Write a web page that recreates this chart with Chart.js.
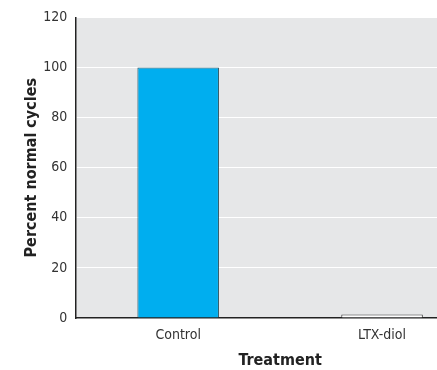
<!DOCTYPE html>
<html>
<head>
<meta charset="utf-8">
<script src="https://cdn.jsdelivr.net/npm/chart.js@4"></script>
<style>
    html, body { margin: 0; padding: 0; background: #fff; overflow: hidden; }
    #wrap { width: 490px; height: 370px; }
</style>
</head>
<body>
<div id="wrap"><canvas id="cyclesChart"></canvas></div>
<script>
// Chart data
const categories = ['Control', 'LTX-diol'];
const percentNormal = [100, 1.4];
const yTicks = [0, 20, 40, 60, 80, 100, 120];

const FONT = "'DejaVu Sans Condensed', 'Liberation Sans', sans-serif";

// Gray plot background
const plotBackground = {
    id: 'plotBackground',
    beforeDraw: (chart) => {
        const { ctx, chartArea } = chart;
        ctx.save();
        ctx.fillStyle = '#e6e7e8';
        ctx.fillRect(chartArea.left, chartArea.top, chartArea.right - chartArea.left, chartArea.bottom - chartArea.top);
        ctx.restore();
    }
};

const ctx = document.querySelector('#cyclesChart');

new Chart(ctx, {
    type: 'bar',
    data: {
        labels: categories,
        datasets: [{
            data: percentNormal,
            backgroundColor: ['#00aeef', '#ffffff'],
            borderColor: ['#24505f', '#3a3a3a'],
            borderWidth: 1,
            barPercentage: 0.8,
            categoryPercentage: 0.5
        }]
    },
    options: {
        responsive: true,
        maintainAspectRatio: false,
        animation: false,
        layout: { padding: { top: 12, left: 18, right: 6, bottom: 0 } },
        plugins: {
            legend: { display: false },
            tooltip: { enabled: false }
        },
        scales: {
            x: {
                grid: { display: false, drawTicks: false },
                border: { display: true, color: '#222', width: 1.5 },
                ticks: { color: '#333', font: { family: FONT, size: 14 }, padding: 9 },
                title: {
                    display: true,
                    text: 'Treatment',
                    color: '#222',
                    font: { family: FONT, size: 16, weight: 'bold' },
                    padding: { top: -2, bottom: 0 }
                }
            },
            y: {
                min: 0,
                max: 120,
                afterBuildTicks: (axis) => { axis.ticks = yTicks.map(v => ({ value: v })); },
                grid: { color: '#ffffff', lineWidth: 1, drawTicks: false },
                border: { display: true, color: '#222', width: 1.5 },
                ticks: { color: '#333', font: { family: FONT, size: 14 }, padding: 9 },
                title: {
                    display: true,
                    text: 'Percent normal cycles',
                    color: '#222',
                    font: { family: FONT, size: 16, weight: 'bold' },
                    padding: { top: 4, bottom: -7 }
                }
            }
        }
    },
    plugins: [plotBackground]
});
</script>
</body>
</html>
